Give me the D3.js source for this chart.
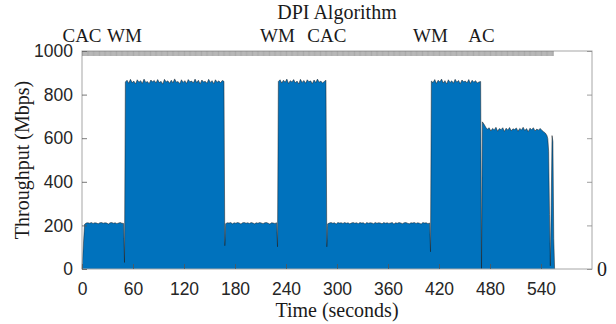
<!DOCTYPE html>
<html>
<head>
<meta charset="utf-8">
<script src="https://cdn.jsdelivr.net/npm/d3@7"></script>
<style>
  body { margin: 0; background: #fff; }
  .serif { font-family: "Liberation Serif", "Times New Roman", serif; fill: #1a1a1a; }
  .tick text { font-family: "Liberation Sans", Arial, sans-serif; font-size: 17.5px; fill: #262626; }
</style>
</head>
<body>
<svg id="chart" width="616" height="324"></svg>
<script>
// throughput (Mbps) per phase, one sample every 2 s from the phase start
var cac1 = [205, 211, 212, 210, 213, 209, 212, 211, 207, 212, 213, 210, 212, 211, 206, 212, 213, 210, 212, 208, 211, 213, 210, 209];
var wm1 = [858, 866, 852, 870, 855, 862, 849, 868, 857, 864, 851, 871, 856, 860, 850, 867, 859, 865, 853, 869,
           855, 861, 848, 870, 858, 863, 852, 866, 854, 872, 857, 860, 850, 868, 856, 864, 851, 869, 859, 862,
           853, 871, 855, 866, 849, 867, 858, 861, 852, 870, 856, 864, 850, 868, 857, 863, 854, 865, 861];
var cac2 = [208, 212, 211, 213, 207, 212, 210, 213, 211, 206, 212, 213, 210, 212, 209, 213, 211, 207, 212, 210,
            213, 211, 208, 212, 213, 210, 206, 212, 211, 209, 212];
var wm2 = [860, 868, 853, 866, 857, 871, 851, 864, 858, 869, 854, 862, 849, 870, 856, 865, 852, 868, 859, 863,
           850, 867, 855, 871, 857, 862, 853, 860, 866];
var cac3 = [207, 211, 213, 210, 212, 206, 213, 211, 212, 209, 213, 210, 212, 207, 211, 213, 210, 212, 208, 213,
            211, 212, 206, 213, 210, 212, 211, 208, 213, 210, 212, 211, 207, 213, 210, 212, 209, 211, 213, 206,
            212, 210, 213, 211, 208, 212, 213, 210, 207, 212, 211, 213, 209, 212, 210, 206, 213, 211, 212, 208, 211];
var wm3 = [862, 855, 869, 851, 866, 858, 871, 853, 864, 849, 868, 856, 863, 852, 870, 857, 865, 850, 867, 859,
           862, 854, 869, 851, 866, 857, 864, 853, 858, 860];
var ac1 = [675, 664, 650, 641, 648, 633, 645, 638, 650, 632, 644, 639, 648, 631, 646, 637, 649, 634, 643, 640,
           647, 632, 645, 638, 650, 635, 644, 630, 646, 639, 648, 633, 642, 637, 645, 636, 630, 624];

var phaseValues = [cac1, wm1, cac2, wm2, cac3, wm3, ac1];
var phaseStart = [3, 51, 169, 231, 289, 411, 471];

// switch-over dips and the end of the run
var dipTime = [0, 50, 168, 230, 288, 410, 470];
var dipValue = [0, 30, 107, 102, 102, 79, 0];
var tailTime = [547, 548, 549, 550, 551, 552, 553, 554, 555, 556];
var tailValue = [612, 598, 540, 250, 15, 290, 612, 585, 140, 0];

// DPI algorithm labels on top
var algoTime = [0, 50, 230, 288, 410, 470];
var algoText = ["CAC", "WM", "WM", "CAC", "WM", "AC"];

var xTicks = [0, 60, 120, 180, 240, 300, 360, 420, 480, 540];
var yTicks = [0, 200, 400, 600, 800, 1000];

var data = [];
phaseValues.forEach(function(vals, p) {
  vals.forEach(function(v, i) { data.push({ t: phaseStart[p] + 2 * i, v: v }); });
});
dipTime.forEach(function(t, i) { data.push({ t: t, v: dipValue[i] }); });
tailTime.forEach(function(t, i) { data.push({ t: t, v: tailValue[i] }); });
data.sort(function(a, b) { return a.t - b.t; });

var svg = d3.select("#chart");
var plotL = 82, plotR = 592, plotT = 51, plotB = 269;

var x = d3.scaleLinear().domain([0, 600]).range([plotL, plotR]);
var y = d3.scaleLinear().domain([0, 1000]).range([plotB, plotT]);

svg.append("rect").attr("width", 616).attr("height", 324).attr("fill", "#fff");

var area = d3.area().x(d => x(d.t)).y0(y(0)).y1(d => y(d.v));
var line = d3.line().x(d => x(d.t)).y(d => y(d.v));

svg.append("path").datum(data).attr("d", area).attr("fill", "#0072BD");
svg.append("path").datum(data).attr("d", line)
  .attr("fill", "none").attr("stroke", "#1c1c1c").attr("stroke-width", 0.5);

// box
svg.append("rect")
  .attr("x", plotL).attr("y", plotT).attr("width", plotR - plotL).attr("height", plotB - plotT)
  .attr("fill", "none").attr("stroke", "#a6a6a6").attr("stroke-width", 1);

// bottom axis
var gx = svg.append("g").attr("transform", "translate(0," + plotB + ")")
  .call(d3.axisBottom(x).tickValues(xTicks).tickSize(-5).tickFormat(d3.format("d")));
gx.select(".domain").remove();
gx.selectAll(".tick line").attr("stroke", "#555").attr("stroke-width", 0.8);
gx.selectAll(".tick text").attr("y", 25.5).attr("dy", null);

// left axis
var gy = svg.append("g").attr("transform", "translate(" + plotL + ",0)")
  .call(d3.axisLeft(y).tickValues(yTicks).tickSize(-5).tickPadding(9).tickFormat(d3.format("d")));
gy.select(".domain").remove();
gy.selectAll(".tick line").attr("stroke", "#555").attr("stroke-width", 0.8);

// right axis
var gr = svg.append("g").attr("transform", "translate(" + plotR + ",0)")
  .call(d3.axisRight(y).tickValues(yTicks).tickSize(-5).tickPadding(5)
    .tickFormat(d => d === 0 ? "0" : ""));
gr.select(".domain").remove();
gr.selectAll(".tick line").attr("stroke", "#888").attr("stroke-width", 0.8);
gr.selectAll(".tick text").style("font-size", "20px")
  .style("font-family", "'Liberation Serif', 'Times New Roman', serif").style("fill", "#1a1a1a");

// top axis: one tick per second of the run
var gt = svg.append("g").attr("transform", "translate(0," + plotT + ")")
  .call(d3.axisBottom(x).tickValues(d3.range(0, 555, 1)).tickSize(5).tickFormat(""));
gt.select(".domain").remove();
gt.selectAll(".tick line").attr("stroke", "#6e6e6e").attr("stroke-width", 0.5);

svg.append("text").attr("class", "serif")
  .attr("x", (plotL + plotR) / 2).attr("y", 18.5)
  .attr("text-anchor", "middle").style("font-size", "20px")
  .text("DPI Algorithm");

svg.selectAll(".algo").data(algoTime).enter().append("text")
  .attr("class", "serif algo")
  .attr("x", d => x(d)).attr("y", 41.5)
  .attr("text-anchor", "middle").style("font-size", "19px")
  .text((d, i) => algoText[i]);

svg.append("text").attr("class", "serif")
  .attr("x", (plotL + plotR) / 2).attr("y", 316.5)
  .attr("text-anchor", "middle").style("font-size", "20px")
  .text("Time (seconds)");

svg.append("text").attr("class", "serif")
  .attr("transform", "translate(29," + (plotT + plotB) / 2 + ") rotate(-90)")
  .attr("text-anchor", "middle").style("font-size", "20px")
  .text("Throughput (Mbps)");
</script>
</body>
</html>
